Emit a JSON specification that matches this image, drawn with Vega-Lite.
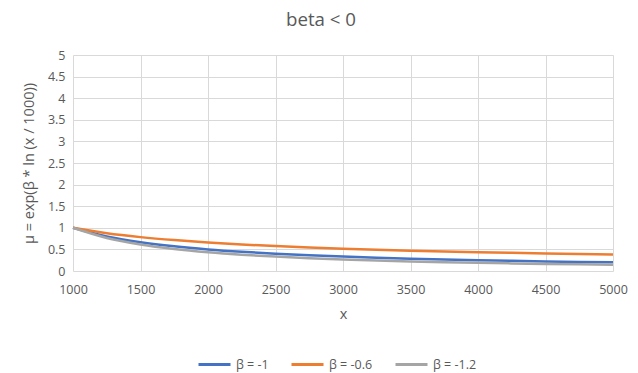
{
  "$schema": "https://vega.github.io/schema/vega-lite/v6.json",
  "width": 540,
  "height": 216,
  "autosize": {"type": "none"},
  "padding": {"left": 73, "top": 55, "right": 25, "bottom": 102},
  "background": "white",
  "title": {"text": "beta < 0", "fontSize": 18.7, "font": "Open Sans", "fontWeight": "normal", "color": "#595959", "anchor": "middle", "dx": -22, "offset": 19},
  "config": {
    "view": {"stroke": null},
    "font": "Open Sans",
    "axis": {"labelColor": "#595959", "titleColor": "#595959", "labelFontSize": 12.5, "titleFontSize": 14.5, "titleFontWeight": "normal", "labelFont": "Open Sans", "titleFont": "Open Sans", "gridColor": "#D9D9D9", "tickSize": 0, "domain": false, "labelFlush": false, "labelOverlap": false, "labelBound": false}
  },
  "data": {"values": [
    {"x": 1000, "s": "β = -1", "y": 1}, {"x": 1250, "s": "β = -1", "y": 0.8}, {"x": 1500, "s": "β = -1", "y": 0.6667}, {"x": 1750, "s": "β = -1", "y": 0.5714}, {"x": 2000, "s": "β = -1", "y": 0.5}, {"x": 2250, "s": "β = -1", "y": 0.4444}, {"x": 2500, "s": "β = -1", "y": 0.4}, {"x": 2750, "s": "β = -1", "y": 0.3636}, {"x": 3000, "s": "β = -1", "y": 0.3333}, {"x": 3250, "s": "β = -1", "y": 0.3077}, {"x": 3500, "s": "β = -1", "y": 0.2857}, {"x": 3750, "s": "β = -1", "y": 0.2667}, {"x": 4000, "s": "β = -1", "y": 0.25}, {"x": 4250, "s": "β = -1", "y": 0.2353}, {"x": 4500, "s": "β = -1", "y": 0.2222}, {"x": 4750, "s": "β = -1", "y": 0.2105}, {"x": 5000, "s": "β = -1", "y": 0.2},
    {"x": 1000, "s": "β = -0.6", "y": 1}, {"x": 1250, "s": "β = -0.6", "y": 0.8747}, {"x": 1500, "s": "β = -0.6", "y": 0.7841}, {"x": 1750, "s": "β = -0.6", "y": 0.7148}, {"x": 2000, "s": "β = -0.6", "y": 0.6598}, {"x": 2250, "s": "β = -0.6", "y": 0.6147}, {"x": 2500, "s": "β = -0.6", "y": 0.5771}, {"x": 2750, "s": "β = -0.6", "y": 0.545}, {"x": 3000, "s": "β = -0.6", "y": 0.5173}, {"x": 3250, "s": "β = -0.6", "y": 0.493}, {"x": 3500, "s": "β = -0.6", "y": 0.4716}, {"x": 3750, "s": "β = -0.6", "y": 0.4525}, {"x": 4000, "s": "β = -0.6", "y": 0.4353}, {"x": 4250, "s": "β = -0.6", "y": 0.4198}, {"x": 4500, "s": "β = -0.6", "y": 0.4056}, {"x": 4750, "s": "β = -0.6", "y": 0.3927}, {"x": 5000, "s": "β = -0.6", "y": 0.3807},
    {"x": 1000, "s": "β = -1.2", "y": 1}, {"x": 1250, "s": "β = -1.2", "y": 0.7651}, {"x": 1500, "s": "β = -1.2", "y": 0.6147}, {"x": 1750, "s": "β = -1.2", "y": 0.5109}, {"x": 2000, "s": "β = -1.2", "y": 0.4353}, {"x": 2250, "s": "β = -1.2", "y": 0.3779}, {"x": 2500, "s": "β = -1.2", "y": 0.333}, {"x": 2750, "s": "β = -1.2", "y": 0.297}, {"x": 3000, "s": "β = -1.2", "y": 0.2676}, {"x": 3250, "s": "β = -1.2", "y": 0.2431}, {"x": 3500, "s": "β = -1.2", "y": 0.2224}, {"x": 3750, "s": "β = -1.2", "y": 0.2047}, {"x": 4000, "s": "β = -1.2", "y": 0.1895}, {"x": 4250, "s": "β = -1.2", "y": 0.1762}, {"x": 4500, "s": "β = -1.2", "y": 0.1645}, {"x": 4750, "s": "β = -1.2", "y": 0.1542}, {"x": 5000, "s": "β = -1.2", "y": 0.145}
  ]},
  "mark": {"type": "line", "strokeWidth": 2.5, "interpolate": "monotone"},
  "encoding": {
    "x": {"field": "x", "type": "quantitative", "scale": {"domain": [1000, 5000], "nice": false, "zero": false}, "axis": {"values": [1000, 1500, 2000, 2500, 3000, 3500, 4000, 4500, 5000], "title": "x", "labelPadding": 12, "titlePadding": 12, "format": "d"}},
    "y": {"field": "y", "type": "quantitative", "scale": {"domain": [0, 5], "nice": false}, "axis": {"values": [0, 0.5, 1, 1.5, 2, 2.5, 3, 3.5, 4, 4.5, 5], "title": "μ = exp(β * ln (x / 1000))", "labelPadding": 8, "titlePadding": 11, "format": "~g"}},
    "color": {"field": "s", "type": "nominal", "scale": {"domain": ["β = -1", "β = -0.6", "β = -1.2"], "range": ["#4472C4", "#ED7D31", "#A5A5A5"]}, "sort": ["β = -1", "β = -0.6", "β = -1.2"], "legend": {"title": null, "orient": "none", "direction": "horizontal", "legendX": 124, "legendY": 292, "symbolType": "stroke", "symbolSize": 1024, "symbolStrokeWidth": 3, "labelFontSize": 12.5, "labelColor": "#595959", "labelFont": "Open Sans", "labelOffset": 4, "columnPadding": 16}}
  }
}
